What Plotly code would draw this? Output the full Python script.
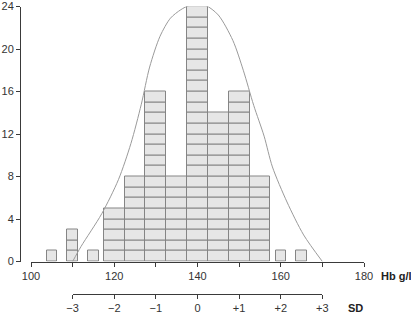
import plotly.graph_objects as go

# ---- data ----
hb_bins = [105, 110, 115, 120, 125, 130, 135, 140, 145, 150, 155, 160, 165]
counts = [1, 3, 1, 5, 8, 16, 8, 24, 14, 16, 8, 1, 1]

curve_x = [110, 112, 117, 121, 124, 126.5, 128.5, 131, 133.5, 136, 138, 140,
           142, 145, 148.5, 151, 153.5, 156, 158, 161.5, 165.5, 170]
curve_y = [0, 1.4, 4.5, 7.7, 11.1, 14.8, 18.3, 21.2, 22.9, 23.7, 24.1, 24.2,
           24.1, 23.2, 20.8, 18, 14.7, 11.8, 8.9, 5.6, 2.5, 0]

x_ticks = [100, 110, 120, 130, 140, 150, 160, 170, 180]
x_ticklabels = ["100", "", "120", "", "140", "", "160", "", "180"]
y_ticks = [0, 4, 8, 12, 16, 20, 24]
sd_ticks = [-3, -2, -1, 0, 1, 2, 3]
sd_ticklabels = ["\u22123", "\u22122", "\u22121", "0", "+1", "+2", "+3"]
hb_mean = 140
hb_sd = 10

# ---- style ----
W, H = 411, 315
FONT = "Liberation Sans, Arial, sans-serif"
AX = "#3a3a3a"
FILL = "#e6e6e6"
EDGE = "#858585"
CURVE = "#9a9a9a"
WIDE, NARROW = 5, 2.5

xr = [100, 180]
xdom = [31 / W, 364 / W]
ydom = [(H - 261.5) / H, (H - 6.5) / H]

# unit boxes
bx, by, bb, bw = [], [], [], []
for c, n in zip(hb_bins, counts):
    w = WIDE if 120 <= c <= 155 else NARROW
    for k in range(n):
        bx.append(c); by.append(1); bb.append(k); bw.append(w)

fig = go.Figure()
fig.add_trace(go.Bar(x=bx, y=by, base=bb, width=bw,
                     marker=dict(color=FILL, line=dict(color=EDGE, width=1)),
                     hoverinfo="skip", showlegend=False))
fig.add_trace(go.Scatter(x=curve_x, y=curve_y, mode="lines",
                         line=dict(color=CURVE, width=1, shape="spline", smoothing=0.8),
                         cliponaxis=False, showlegend=False, hoverinfo="skip"))
fig.add_trace(go.Scatter(x=[sd_ticks[0], sd_ticks[-1]], y=[None, None],
                         xaxis="x2", yaxis="y", mode="markers",
                         showlegend=False, hoverinfo="skip"))

def frac(v):
    return xdom[0] + (v - xr[0]) / (xr[1] - xr[0]) * (xdom[1] - xdom[0])

x2dom = [frac(hb_mean + sd_ticks[0] * hb_sd), frac(hb_mean + sd_ticks[-1] * hb_sd)]

tickfont = dict(family=FONT, size=11, color="#333333")
fig.update_layout(
    width=W, height=H, template="none",
    margin=dict(l=0, r=0, t=0, b=0),
    paper_bgcolor="white", plot_bgcolor="rgba(0,0,0,0)",
    barmode="overlay", bargap=0,
    xaxis=dict(domain=xdom, range=xr, anchor="y", showgrid=False, zeroline=False,
               showline=True, linecolor=AX, linewidth=1, ticks="outside",
               ticklen=4, tickcolor=AX, tickvals=x_ticks, ticktext=x_ticklabels,
               tickfont=tickfont, automargin=False, ticklabeloverflow="allow"),
    yaxis=dict(domain=ydom, range=[0, 24], anchor="free", position=20 / W,
               showgrid=False, zeroline=False, showline=True, linecolor=AX,
               linewidth=1, ticks="outside", ticklen=4, tickcolor=AX,
               tickvals=y_ticks, tickfont=tickfont, automargin=False,
               ticklabeloverflow="allow"),
    xaxis2=dict(domain=x2dom, range=[sd_ticks[0], sd_ticks[-1]], anchor="free",
                position=(H - 294) / H, showgrid=False, zeroline=False,
                showline=True, linecolor=AX, linewidth=1, ticks="outside",
                ticklen=4, tickcolor=AX, tickvals=sd_ticks, ticktext=sd_ticklabels,
                tickfont=tickfont, automargin=False, ticklabeloverflow="allow"),
    annotations=[
        dict(text="<b>Hb g/l</b>", x=379 / W, y=(H - 276) / H, xref="paper",
             yref="paper", xanchor="left", yanchor="middle", showarrow=False,
             font=dict(family=FONT, size=11, color="#222222")),
        dict(text="<b>SD</b>", x=346 / W, y=(H - 308) / H, xref="paper",
             yref="paper", xanchor="left", yanchor="middle", showarrow=False,
             font=dict(family=FONT, size=11, color="#222222")),
    ],
)

fig.write_html("out.html")
